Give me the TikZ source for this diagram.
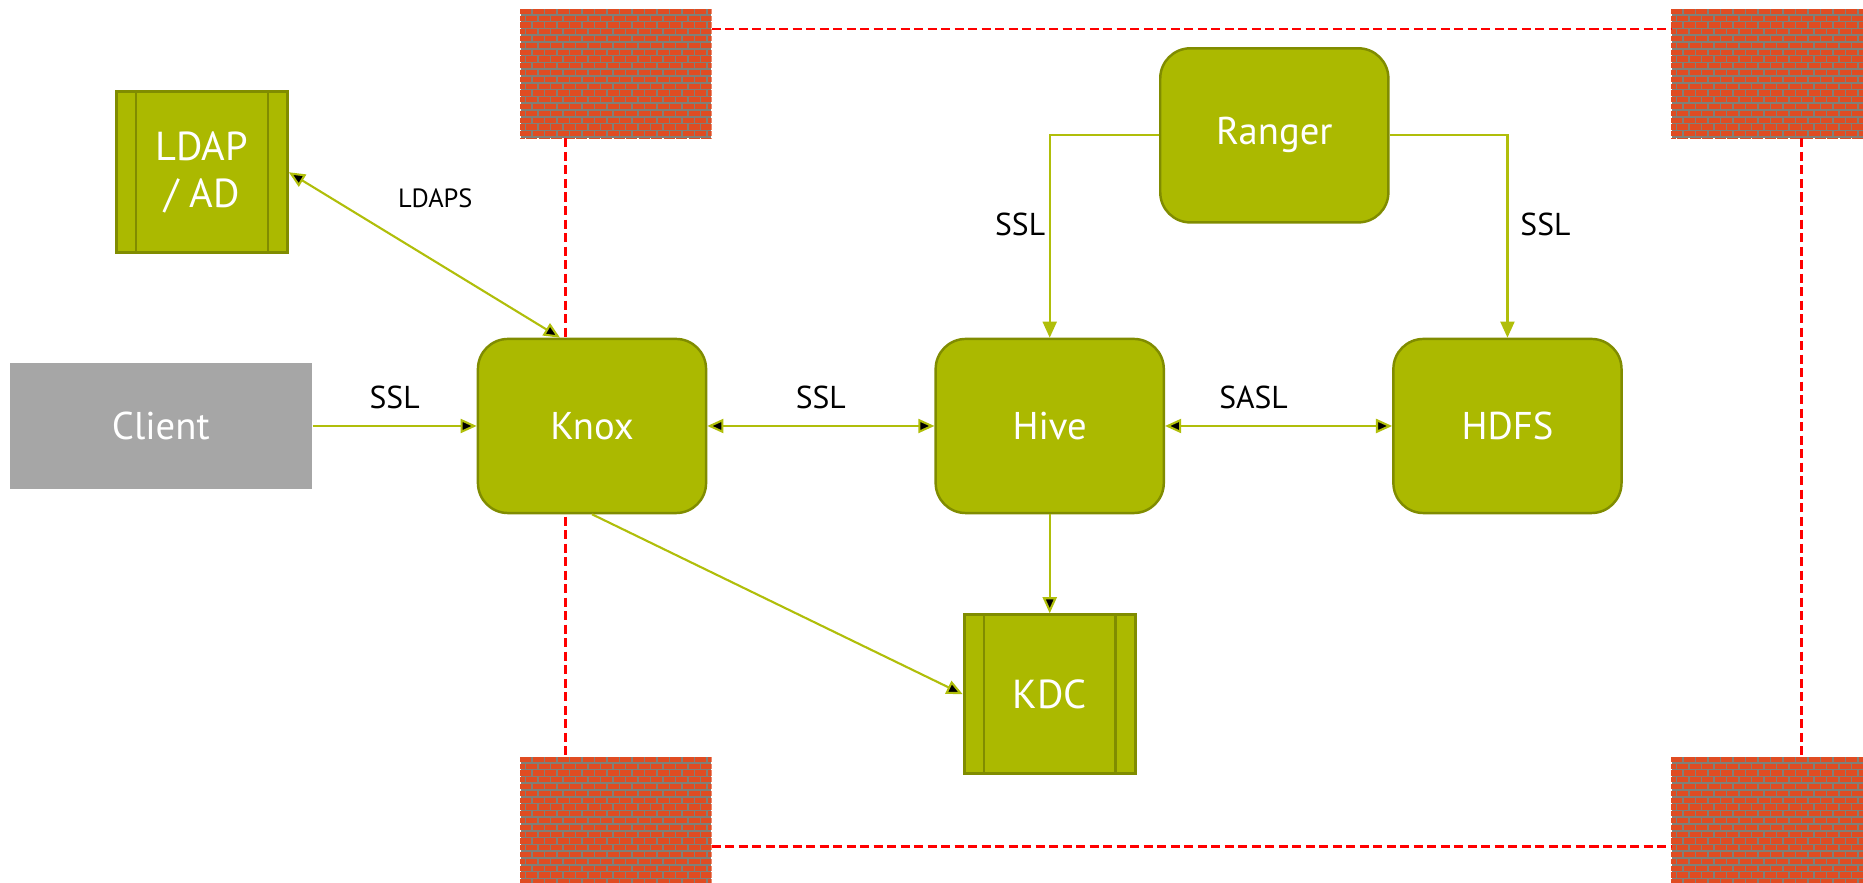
\documentclass[tikz,border=0pt]{standalone}
\usepackage{fontspec}
\setmainfont{PT Sans}
\usepackage{tikz}
\usetikzlibrary{
        arrows.meta,
        positioning
    }
\definecolor{boxgreen}{RGB}{171,185,0}
\definecolor{boxedge}{RGB}{128,140,0}
\definecolor{linkgreen}{RGB}{176,190,10}
\definecolor{clientgray}{RGB}{166,166,166}
\definecolor{mortar}{RGB}{128,128,120}
\definecolor{brickred}{RGB}{224,76,34}
\tikzset{>={Triangle[length=4.6pt,width=4pt]},auto}
\tikzset{
    box/.style={draw=boxedge,fill=boxgreen,line width=0.7pt,rounded corners=0.3cm,text=white,
        font=\fontsize{11}{13}\selectfont,minimum width=2.28cm,minimum height=1.74cm},
    store/.style={draw=boxedge,fill=boxgreen,line width=0.8pt,text=white,align=center,
        font=\fontsize{11.5}{13.5}\selectfont,minimum width=1.71cm,minimum height=1.6cm},
    client/.style={fill=clientgray,text=white,font=\fontsize{11}{13}\selectfont,
        minimum width=3.02cm,minimum height=1.26cm},
    link/.style={draw=linkgreen,line width=0.6pt},
    lbl/.style={font=\fontsize{9}{11}\selectfont,inner sep=1pt,text=black},
    fence/.style={draw=red,line width=0.85pt,dash pattern=on 0.09cm off 0.045cm},
    wall/.style={fill=mortar,inner sep=0pt,anchor=north west},
    brick/.style={fill=brickred}
}

\begin{document}
\begin{tikzpicture}[x=0.01cm,y=-0.01cm]
                \useasboundingbox (0,0) rectangle (1863,883);
                % firewalls
                \node[wall,minimum width=1.9cm,minimum height=1.29cm] (wtl) at (520,8) {};
                \node[wall,minimum width=1.92cm,minimum height=1.29cm] (wtr) at (1671,8) {};
                \node[wall,minimum width=1.9cm,minimum height=1.27cm] (wbl) at (520,756) {};
                \node[wall,minimum width=1.92cm,minimum height=1.27cm] (wbr) at (1671,756) {};
                \foreach \w in {wtl,wtr,wbl,wbr} {
                    \begin{scope}
                        \clip (\w.north west) rectangle (\w.south east);
                        \begin{scope}[shift={(\w.north west)}]
                            \foreach \r [evaluate=\r as \dx using {mod(\r,2)*6.25}] in {0,...,19}
                                \foreach \c in {-1,...,15}
                                    \fill[brick] (\c*12.5+\dx,\r*6.8+0.8) rectangle ++(11,5.2);
                        \end{scope}
                    \end{scope}
                }
                % cluster boundary
                \draw[fence] ([yshift=-0.21cm]wtl.north east) -- ([yshift=-0.21cm]wtr.north west);
                \draw[fence] ([yshift=0.38cm]wbl.south east) -- ([yshift=0.38cm]wbr.south west);
                \draw[fence] ([xshift=0.45cm]wtl.south west) -- ([xshift=0.45cm]wbl.north west);
                \draw[fence] ([xshift=1.3cm]wtr.south west) -- ([xshift=1.3cm]wbr.north west);
                % services
                \node[box] (knox) at (592,426) {Knox};
                \node[box] (hive)  [right=2.27cm of knox]    {Hive};
                \node[box] (hdfs)  [right=2.27cm of hive]    {HDFS};
                \node[box] (ranger)  [above right=1.14cm and -0.06cm of hive.north east]    {Ranger};
                \node[store,minimum height=1.59cm] (kdc)  [below=0.99cm of hive]    {KDC};
                \node[client] (client)  [left=1.64cm of knox]    {Client};
                \node[store,minimum height=1.61cm] (ldap)  [above=1.08cm of client,xshift=0.41cm]    {LDAP\\/ AD};
                \foreach \s in {ldap,kdc} {
                    \draw[boxedge,line width=0.7pt] ([xshift=0.21cm]\s.north west) -- ([xshift=0.21cm]\s.south west);
                    \draw[boxedge,line width=0.7pt] ([xshift=-0.21cm]\s.north east) -- ([xshift=-0.21cm]\s.south east);
                }
                \path[link]
                    (client) edge [->] node [lbl,above=3.5pt] {SSL} (knox)
                    (knox) edge [<->] node [lbl,above=3.5pt] {SSL} (hive)
                    (hive) edge [<->] node [lbl,above=3.5pt,xshift=-0.25cm] {SASL} (hdfs)
                    (hive) edge [->] (kdc)
                    (knox.south) edge [->] (kdc.west)
                    ([xshift=-0.32cm]knox.north) edge [<->] node [lbl,font=\fontsize{7.5}{9}\selectfont,pos=0.46,above=14pt] {LDAPS} (ldap.east)
                ;
                \draw[link,->] (ranger) -| node [lbl,left=0pt,pos=0.72] {SSL} (hive);
                \draw[link,->] (ranger) -| node [lbl,right=2.4pt,pos=0.72] {SSL} (hdfs);
            \end{tikzpicture}
\end{document}
